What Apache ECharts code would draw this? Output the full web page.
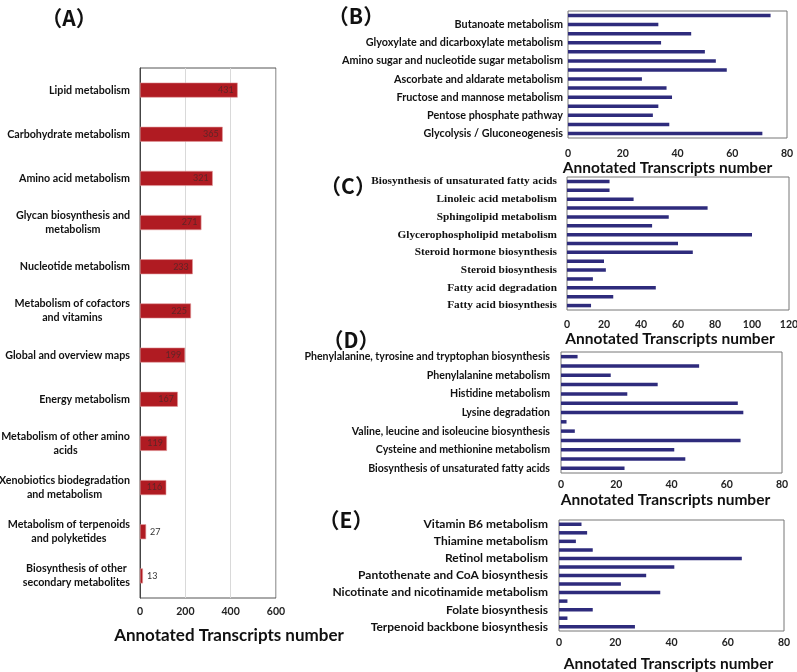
<!DOCTYPE html>
<html><head><meta charset="utf-8">
<script src="https://cdn.jsdelivr.net/npm/echarts@6/dist/echarts.min.js"></script>
<style>html,body{margin:0;padding:0;background:#fff}#c{width:797px;height:672px}</style>
</head><body><div id="c"></div>
<script>
// ---- Panel A ----
const catA = ['Lipid metabolism','Carbohydrate metabolism','Amino acid metabolism','Glycan biosynthesis and\nmetabolism','Nucleotide metabolism','Metabolism of cofactors\nand vitamins','Global and overview maps','Energy metabolism','Metabolism of other amino\nacids','Xenobiotics biodegradation\nand metabolism','Metabolism of terpenoids\nand polyketides','Biosynthesis of other\nsecondary metabolites'];
const valA = [431,365,321,271,233,225,199,167,119,116,27,13];
const ticksA = [0,200,400,600];
// ---- Panel B (top to bottom, '' = unlabeled row) ----
const catB = ['','Butanoate metabolism','','Glyoxylate and dicarboxylate metabolism','','Amino sugar and nucleotide sugar metabolism','','Ascorbate and aldarate metabolism','','Fructose and mannose metabolism','','Pentose phosphate pathway','','Glycolysis / Gluconeogenesis'];
const valB = [74,33,45,34,50,54,58,27,36,38,33,31,37,71];
const ticksB = [0,20,40,60,80];
// ---- Panel C ----
const catC = ['Biosynthesis of unsaturated fatty acids','','Linoleic acid metabolism','','Sphingolipid metabolism','','Glycerophospholipid metabolism','','Steroid hormone biosynthesis','','Steroid biosynthesis','','Fatty acid degradation','','Fatty acid biosynthesis'];
const valC = [23,23,36,76,55,46,100,60,68,20,21,14,48,25,13];
const ticksC = [0,20,40,60,80,100,120];
// ---- Panel D ----
const catD = ['Phenylalanine, tyrosine and tryptophan biosynthesis','','Phenylalanine metabolism','','Histidine metabolism','','Lysine degradation','','Valine, leucine and isoleucine biosynthesis','','Cysteine and methionine metabolism','','Biosynthesis of unsaturated fatty acids'];
const valD = [6,50,18,35,24,64,66,2,5,65,41,45,23];
const ticksD = [0,20,40,60,80];
// ---- Panel E ----
const catE = ['Vitamin B6 metabolism','','Thiamine metabolism','','Retinol metabolism','','Pantothenate and CoA biosynthesis','','Nicotinate and nicotinamide metabolism','','Folate biosynthesis','','Terpenoid backbone biosynthesis'];
const valE = [8,10,6,12,65,41,31,22,36,3,12,3,27];
const ticksE = [0,20,40,60,80];

const panelLetters = ['（A）','（B）','（C）','（D）','（E）'];
const axisTitle = 'Annotated Transcripts number';

const SANS = 'Lato';
const SERIF = 'Liberation Serif';
const NAVY = '#2e2b7c';

function xAxisFor(idx, ticks, o) {
  return {
    type: 'value', gridIndex: idx, min: ticks[0], max: ticks[ticks.length-1],
    interval: ticks[1]-ticks[0],
    axisLine: {show: false}, axisTick: {show: false},
    splitLine: {show: o.split || false, lineStyle: {color: '#d9d9d9', width: 1}},
    axisLabel: {fontFamily: SANS, fontWeight: 'bold', fontSize: o.tickSize || 10.5, color: '#222', margin: o.margin},
    name: axisTitle, nameLocation: 'middle', nameGap: o.nameGap,
    nameTextStyle: {fontFamily: SANS, fontWeight: 'bold', fontSize: o.nameSize, color: '#111', padding: o.namePad || 0}
  };
}
function yAxisFor(idx, cats, o) {
  return {
    type: 'category', gridIndex: idx, inverse: true,
    data: cats.map((c, i) => String(i)),
    axisLine: {show: o.line || false, lineStyle: {color: '#444'}}, axisTick: {show: false},
    axisLabel: {
      interval: 0, margin: o.margin,
      formatter: (v, i) => o.rich ? cats[i].split('\n').map(l => '{c|' + l + '}').join('\n') : cats[i],
      fontFamily: o.font, fontWeight: 'bold', fontSize: o.size, color: '#111',
      lineHeight: o.lineHeight,
      rich: o.rich ? {c: {align: 'center', fontFamily: o.font, fontWeight: 'bold', fontSize: o.size, color: '#111', lineHeight: o.lineHeight}} : undefined
    }
  };
}
function navySeries(idx, vals, bw) {
  return {type: 'bar', xAxisIndex: idx, yAxisIndex: idx, data: vals, barWidth: bw,
    itemStyle: {color: NAVY}, silent: true, animation: false};
}
function gridAt(left, top, width, height, border) {
  return {left, top, width, height, show: true, borderColor: border, borderWidth: 1,
    containLabel: false, outerBoundsMode: 'none'};
}

const chart = echarts.init(document.getElementById('c'), null, {renderer: 'canvas'});
const letterPos = [[64,3],[351,1],[343,171],[346,325],[341,505]];
chart.setOption({
  animation: false,
  backgroundColor: '#fff',
  title: panelLetters.map((t, i) => ({
    text: t, left: letterPos[i][0], top: letterPos[i][1], textAlign: 'center',
    textStyle: {fontFamily: 'Noto Sans CJK SC', fontWeight: 'bold', fontSize: 21, color: '#111'}
  })),
  grid: [
    gridAt(140, 68, 136, 530, '#555'),
    gridAt(568, 11, 219, 127, '#777'),
    gridAt(567, 177, 222, 133, '#777'),
    gridAt(561, 352, 221, 121, '#777'),
    gridAt(559, 520, 225, 111, '#777')
  ],
  xAxis: [
    xAxisFor(0, ticksA, {split: true, margin: 8, nameGap: 29, nameSize: 17, namePad: [0,0,0,42]}),
    xAxisFor(1, ticksB, {margin: 10, nameGap: 17, nameSize: 15.5, namePad: [0,20,0,0]}),
    xAxisFor(2, ticksC, {margin: 9, nameGap: 18, nameSize: 15.5, namePad: [0,16,0,0]}),
    xAxisFor(3, ticksD, {margin: 6, nameGap: 19, nameSize: 15.5, namePad: [0,12,0,0]}),
    xAxisFor(4, ticksE, {margin: 6, nameGap: 25, nameSize: 15.5, namePad: [0,6,0,0]})
  ],
  yAxis: [
    yAxisFor(0, catA, {font: SANS, size: 10.7, margin: 10, rich: true, lineHeight: 14, line: true}),
    yAxisFor(1, catB, {font: SANS, size: 10.8, margin: 5}),
    yAxisFor(2, catC, {font: SERIF, size: 11.3, margin: 10}),
    yAxisFor(3, catD, {font: SANS, size: 10.6, margin: 11}),
    yAxisFor(4, catE, {font: SANS, size: 12, margin: 11})
  ],
  series: [
    {type: 'bar', xAxisIndex: 0, yAxisIndex: 0, barWidth: 15, silent: true,
     data: valA.map(v => ({value: v, label: {position: v < 50 ? 'right' : 'insideRight', color: v < 50 ? '#333' : 'rgba(70,40,40,0.75)'}})),
     itemStyle: {color: '#b01b22', borderColor: '#e39a9c', borderWidth: 0.6},
     label: {show: true, fontFamily: SANS, fontSize: 9, distance: 4}},
    navySeries(1, valB, 3.5),
    navySeries(2, valC, 3.5),
    navySeries(3, valD, 3.5),
    navySeries(4, valE, 3.5)
  ]
});
</script></body></html>
